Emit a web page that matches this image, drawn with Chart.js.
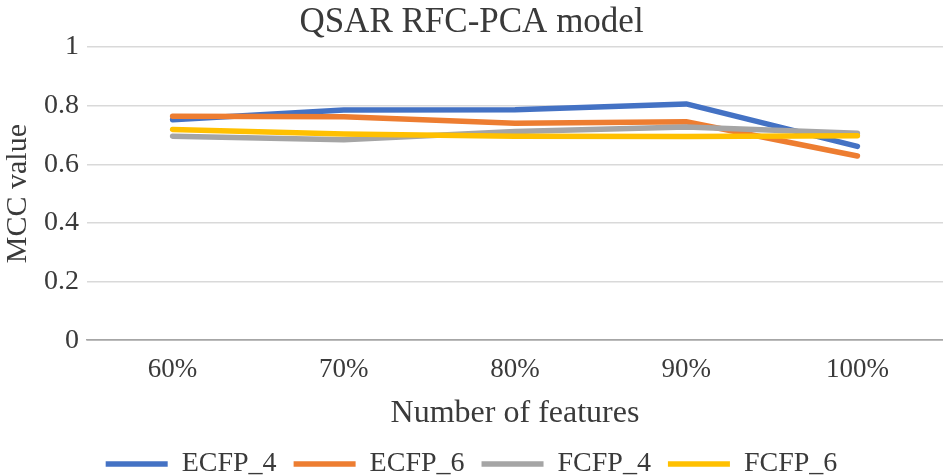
<!DOCTYPE html>
<html>
<head>
<meta charset="utf-8">
<script src="https://cdn.jsdelivr.net/npm/chart.js@4"></script>
<style>
  html, body { margin: 0; padding: 0; background: #fff; }
  #wrap { width: 943px; height: 476px; }
</style>
</head>
<body>
<div id="wrap"><canvas id="myChart" width="943" height="476"></canvas></div>
<script>
// data
var labels = ['60%', '70%', '80%', '90%', '100%'];
var ecfp4 = [0.752, 0.785, 0.786, 0.806, 0.661];
var ecfp6 = [0.764, 0.762, 0.740, 0.745, 0.628];
var fcfp4 = [0.696, 0.684, 0.712, 0.727, 0.706];
var fcfp6 = [0.719, 0.703, 0.696, 0.695, 0.697];
var yTicks = [0, 0.2, 0.4, 0.6, 0.8, 1];

var font = "'Liberation Serif', serif";
var textColor = '#3a3a3a';

function series(name, data, color, order) {
  return {
    label: name,
    data: data,
    borderColor: color,
    backgroundColor: color,
    borderWidth: 5.5,
    borderCapStyle: 'round',
    borderJoinStyle: 'round',
    pointRadius: 0,
    pointStyle: 'line',
    tension: 0,
    fill: false,
    order: order  // later series on top, like the original
  };
}

var ctx = document.getElementById('myChart');
var chart = new Chart(ctx, {
  type: 'line',
  data: {
    labels: labels,
    datasets: [
      series('ECFP_4', ecfp4, '#4472C4', 4),
      series('ECFP_6', ecfp6, '#ED7D31', 3),
      series('FCFP_4', fcfp4, '#A5A5A5', 2),
      series('FCFP_6', fcfp6, '#FFC000', 1)
    ]
  },
  options: {
    responsive: false,
    animation: false,
    layout: { padding: { left: 0, right: 0, top: 2, bottom: -12 } },
    plugins: {
      title: {
        display: true,
        text: 'QSAR RFC-PCA model',
        color: textColor,
        font: { family: font, size: 35, weight: 'normal' },
        padding: { top: 0, bottom: 3 }
      },
      legend: {
        position: 'bottom',
        labels: {
          color: textColor,
          font: { family: font, size: 28 },
          usePointStyle: true,
          pointStyleWidth: 62,
          boxHeight: 6,
          padding: 17,
          sort: function(a, b) { return a.datasetIndex - b.datasetIndex; }
        }
      },
      tooltip: { enabled: false }
    },
    scales: {
      x: {
        offset: true,
        grid: { display: false },
        border: { color: '#a6a6a6', width: 1.5 },
        ticks: { color: textColor, font: { family: font, size: 27 }, padding: 6 },
        title: {
          display: true,
          text: 'Number of features',
          color: textColor,
          font: { family: font, size: 32 },
          padding: { top: 2, bottom: 0 }
        }
      },
      y: {
        min: 0,
        max: 1,
        afterBuildTicks: function(axis) {
          axis.ticks = yTicks.map(function(v) { return { value: v }; });
        },
        grid: {
          color: function(c) { return c.tick && c.tick.value === 0 ? '#a6a6a6' : '#d9d9d9'; },
          lineWidth: 1.5,
          drawTicks: false
        },
        border: { display: false },
        ticks: {
          color: textColor,
          font: { family: font, size: 28 },
          padding: 8,
          callback: function(v) { return String(v); }
        },
        title: {
          display: true,
          text: 'MCC value',
          color: textColor,
          font: { family: font, size: 30 },
          padding: { top: 0, bottom: 0 }
        }
      }
    }
  }
});
</script>
</body>
</html>
